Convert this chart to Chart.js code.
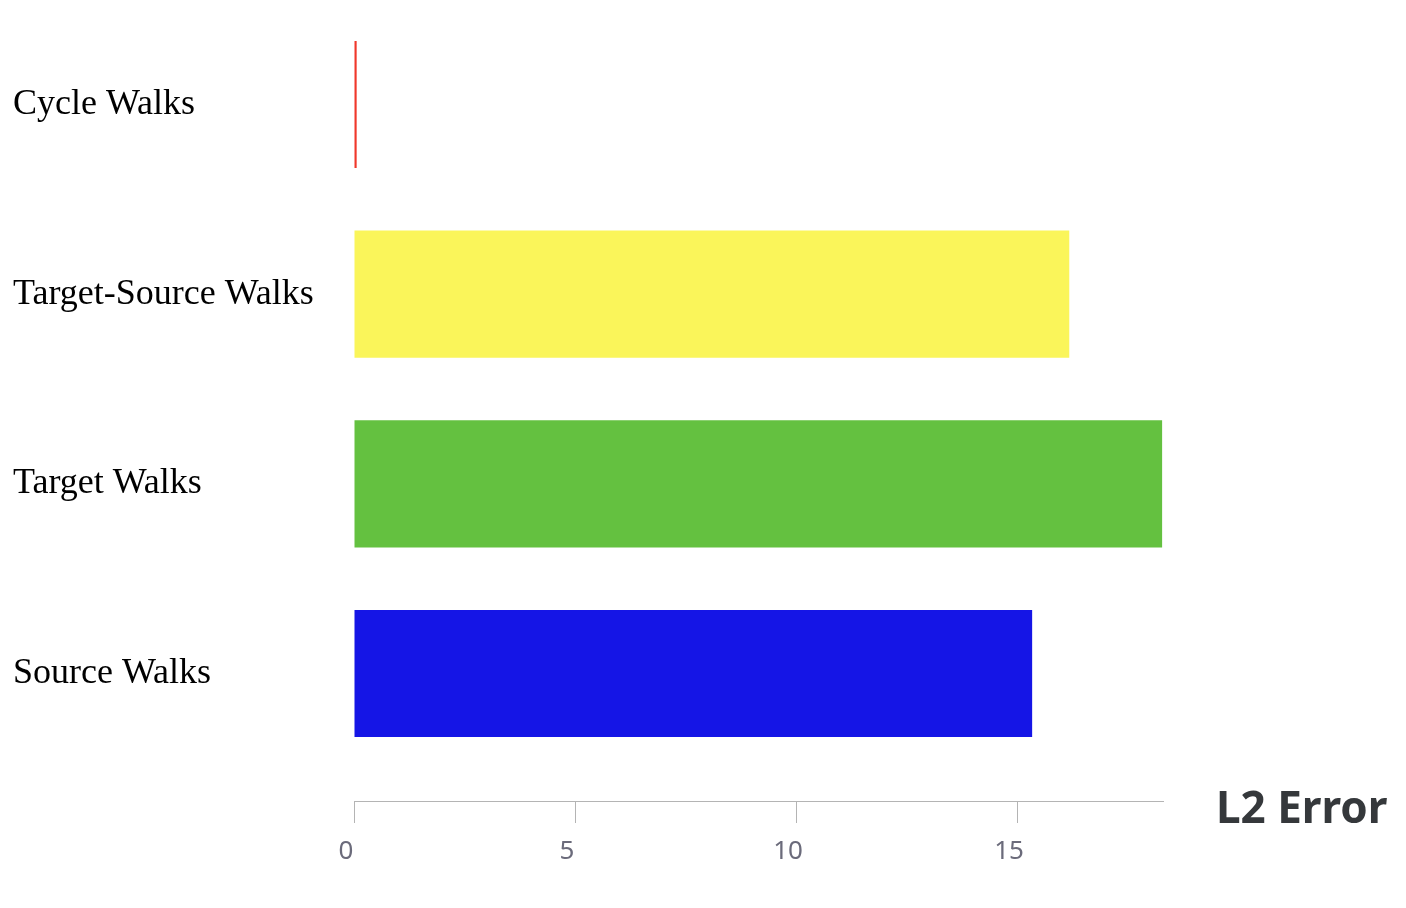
<!DOCTYPE html>
<html>
<head>
<meta charset="utf-8">
<script src="https://cdn.jsdelivr.net/npm/chart.js@4"></script>
<style>
html,body{margin:0;padding:0;background:#fff;}
#wrap{position:relative;width:1406px;height:908px;}
</style>
</head>
<body>
<div id="wrap"><canvas id="c" width="1406" height="908"></canvas></div>
<script>
const categories = ["Cycle Walks", "Target-Source Walks", "Target Walks", "Source Walks"];
const values = [0.06, 16.18, 18.28, 15.34];
const barColors = ["#f0382b", "#faf55a", "#64c140", "#1515e6"];
const xTickValues = [0, 5, 10, 15];
const axisTitle = "L2 Error";

const points = categories.map((c, i) => ({x: values[i], y: i}));

const titlePlugin = {
  id: 'axisSideTitle',
  afterDraw(chart) {
    const ctx = chart.ctx;
    const xs = chart.scales.x;
    ctx.save();
    ctx.font = 'bold 44px "Noto Sans"';
    ctx.fillStyle = '#35383b';
    ctx.textAlign = 'left';
    ctx.textBaseline = 'alphabetic';
    ctx.fillText(axisTitle, xs.right + 53, xs.top + 22);
    ctx.restore();
  }
};

new Chart(document.getElementById('c'), {
  type: 'bar',
  data: {
    datasets: [{
      data: points,
      backgroundColor: barColors,
      borderWidth: 0,
      categoryPercentage: 1,
      barPercentage: 0.67
    }]
  },
  options: {
    indexAxis: 'y',
    responsive: false,
    animation: false,
    layout: {padding: {left: 13, right: 243, top: 10, bottom: 0}},
    plugins: {legend: {display: false}, tooltip: {enabled: false}},
    scales: {
      y: {
        type: 'linear',
        reverse: true,
        offset: false,
        min: -0.421,
        max: 3.672,
        grid: {display: false},
        border: {display: false},
        afterBuildTicks(scale) {
          scale.ticks = categories.map((c, i) => ({value: i}));
        },
        afterFit(scale) { scale.width = 341; },
        ticks: {
          crossAlign: 'far',
          color: '#000',
          font: {family: '"Liberation Serif"', size: 36},
          callback: (v) => categories[v]
        }
      },
      x: {
        type: 'linear',
        min: 0,
        max: 18.3,
        afterBuildTicks(scale) {
          scale.ticks = xTickValues.map(v => ({value: v}));
        },
        afterFit(scale) { scale.height = 107; },
        grid: {drawOnChartArea: false, drawTicks: true, tickLength: 22, color: '#b4b4b4', lineWidth: 1},
        border: {display: true, color: '#b4b4b4', width: 1},
        ticks: {
          color: '#6b6b7b',
          font: {family: '"Noto Sans"', size: 26},
          padding: 13,
          labelOffset: -8,
          maxRotation: 0
        }
      }
    }
  },
  plugins: [titlePlugin]
});
</script>
</body>
</html>
